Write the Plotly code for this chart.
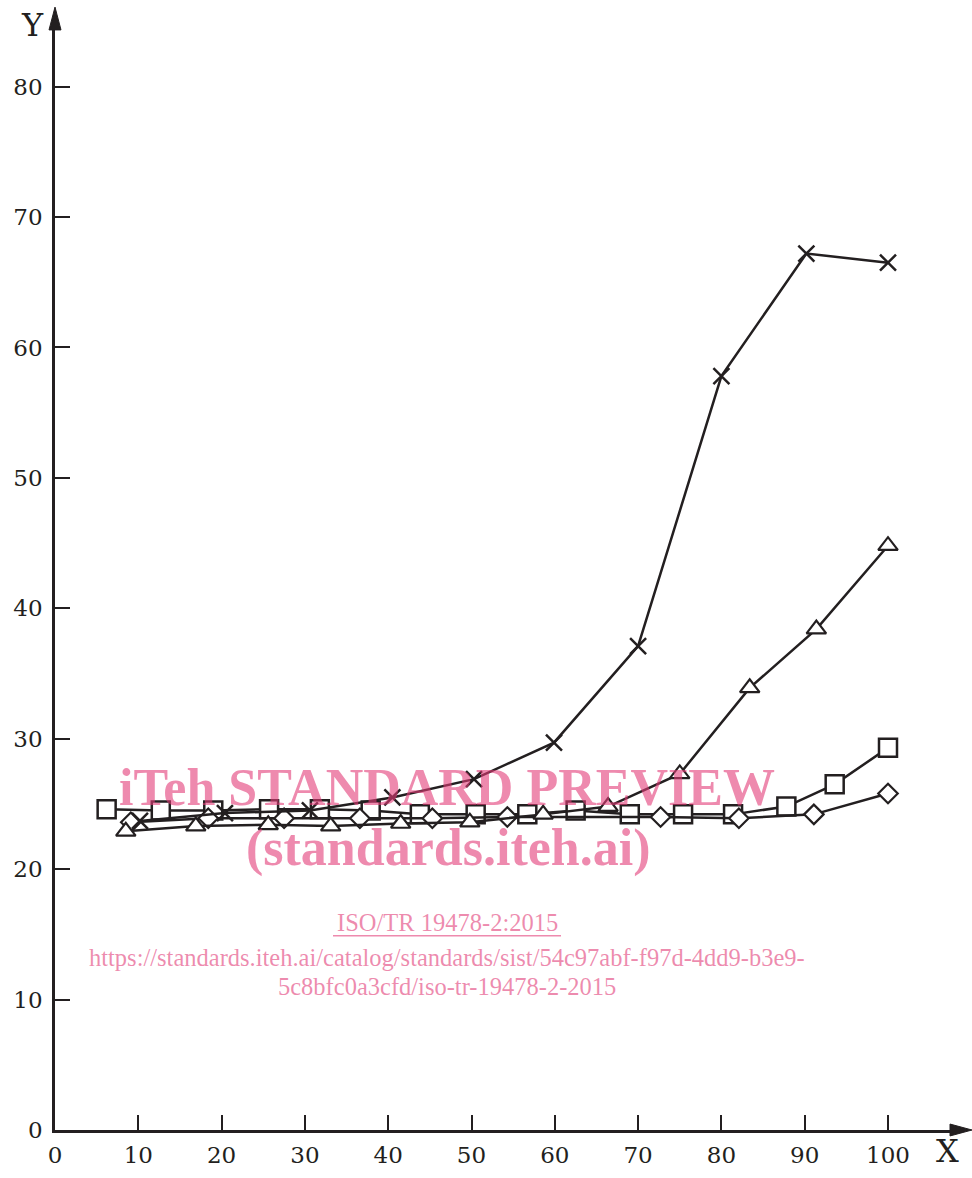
import plotly.graph_objects as go

# ---- data ----
cross_x = [10.2, 20.4, 30.6, 40.5, 50.3, 59.9, 70.0, 80.0, 90.2, 100.0]
cross_y = [23.7, 24.3, 24.5, 25.5, 26.9, 29.7, 37.1, 57.8, 67.2, 66.5]

tri_x = [8.5, 16.9, 25.6, 33.1, 41.5, 49.8, 58.6, 66.4, 75.0, 83.4, 91.4, 100.0]
tri_y = [22.9, 23.3, 23.4, 23.3, 23.5, 23.6, 24.2, 24.8, 27.3, 33.9, 38.4, 44.8]

sq_x = [6.2, 12.7, 19.0, 25.7, 31.8, 37.9, 43.8, 50.5, 56.7, 62.5, 69.0, 75.4, 81.4, 87.8, 93.6, 100.0]
sq_y = [24.6, 24.5, 24.5, 24.6, 24.6, 24.5, 24.2, 24.2, 24.2, 24.5, 24.2, 24.2, 24.2, 24.8, 26.5, 29.3]

dia_x = [9.1, 18.4, 27.5, 36.6, 45.3, 54.3, 72.7, 82.1, 91.1, 100.0]
dia_y = [23.6, 23.9, 23.9, 23.9, 23.9, 24.0, 24.0, 23.9, 24.2, 25.8]

x_ticks = [0, 10, 20, 30, 40, 50, 60, 70, 80, 90, 100]
y_ticks = [0, 10, 20, 30, 40, 50, 60, 70, 80]

INK = "#231f20"
W, H = 972, 1178
L, R, T, B = 55, 10, 20, 38
PW, PH = W - L - R, H - T - B
X_MAX = PW / 8.33
Y_MAX = PH / 13.16


def px(xp):
    return (xp - L) / PW


def py(yp):
    return (H - B - yp) / PH


fig = go.Figure()

fig.add_trace(go.Scatter(
    x=sq_x, y=sq_y, mode="lines+markers",
    line=dict(color=INK, width=2.5),
    marker=dict(symbol="square", size=18, color="white", line=dict(color=INK, width=2.5)),
))
fig.add_trace(go.Scatter(
    x=dia_x, y=dia_y, mode="lines+markers",
    line=dict(color=INK, width=2.5),
    marker=dict(symbol="diamond", size=15, color="white", line=dict(color=INK, width=2.2)),
))
fig.add_trace(go.Scatter(
    x=tri_x, y=tri_y, mode="lines+markers",
    line=dict(color=INK, width=2.5),
    marker=dict(symbol="triangle-up", size=17, color="white", line=dict(color=INK, width=2.2)),
))
fig.add_trace(go.Scatter(
    x=cross_x, y=cross_y, mode="lines+markers",
    line=dict(color=INK, width=2.5),
    marker=dict(symbol="x-thin", size=16, color=INK, line=dict(color=INK, width=2.5)),
))

axis_font = dict(family="DejaVu Serif", size=23, color=INK)

fig.update_xaxes(
    range=[0, X_MAX], tickvals=x_ticks, ticktext=[str(v) for v in x_ticks],
    showgrid=False, zeroline=False, showline=True, linecolor=INK, linewidth=2.5,
    ticks="inside", ticklen=15, tickwidth=2, tickcolor=INK, tickfont=axis_font,
    ticklabelstandoff=3,
)
fig.update_yaxes(
    range=[0, Y_MAX], tickvals=y_ticks, ticktext=[str(v) for v in y_ticks],
    showgrid=False, zeroline=False, showline=True, linecolor=INK, linewidth=2.5,
    ticks="inside", ticklen=15, tickwidth=2, tickcolor=INK, tickfont=axis_font,
    ticklabelstandoff=5,
)

pink = "rgba(226,60,120,0.6)"
shapes = [
    dict(type="path", xref="paper", yref="paper",
         path=f"M {px(972)} {py(1140)} L {px(950)} {py(1134)} L {px(950)} {py(1146)} Z",
         fillcolor=INK, line=dict(color=INK, width=1)),
    dict(type="path", xref="paper", yref="paper",
         path=f"M {px(55)} {py(7)} L {px(49)} {py(30)} L {px(61)} {py(30)} Z",
         fillcolor=INK, line=dict(color=INK, width=1)),
    dict(type="line", xref="paper", yref="paper",
         x0=px(333), x1=px(561), y0=py(944), y1=py(944),
         line=dict(color=pink, width=1.5)),
]

ann = [
    dict(text="Y", x=px(32), y=py(25), font=dict(family="DejaVu Serif", size=32, color=INK)),
    dict(text="X", x=px(947), y=py(1161), font=dict(family="DejaVu Serif", size=32, color=INK)),
    dict(text="<b>iTeh STANDARD PREVIEW</b>", x=px(447), y=py(794),
         font=dict(family="Liberation Serif", size=52, color=pink)),
    dict(text="<b>(standards.iteh.ai)</b>", x=px(448), y=py(855),
         font=dict(family="Liberation Serif", size=52, color=pink)),
    dict(text="ISO/TR 19478-2:2015", x=px(447), y=py(931),
         font=dict(family="Liberation Serif", size=24.5, color=pink)),
    dict(text="https://standards.iteh.ai/catalog/standards/sist/54c97abf-f97d-4dd9-b3e9-",
         x=px(447), y=py(966), font=dict(family="Liberation Serif", size=24.5, color=pink)),
    dict(text="5c8bfc0a3cfd/iso-tr-19478-2-2015", x=px(447), y=py(995),
         font=dict(family="Liberation Serif", size=24.5, color=pink)),
]
for a in ann:
    a.update(xref="paper", yref="paper", showarrow=False, xanchor="center", yanchor="middle")

fig.update_layout(
    width=W, height=H,
    margin=dict(l=L, r=R, t=T, b=B, pad=0),
    paper_bgcolor="white", plot_bgcolor="white",
    showlegend=False,
    shapes=shapes,
    annotations=ann,
)

fig.write_html(
    "out.html", config={"displayModeBar": False},
    post_script=(
        "document.documentElement.style.margin='0';"
        "document.documentElement.style.overflow='hidden';"
        "document.body.style.margin='0';"
        "document.body.style.overflow='hidden';"
        "var gd=document.getElementById('{plot_id}');"
        "gd.style.position='fixed';gd.style.top='0px';gd.style.left='0px';"
    ),
)
